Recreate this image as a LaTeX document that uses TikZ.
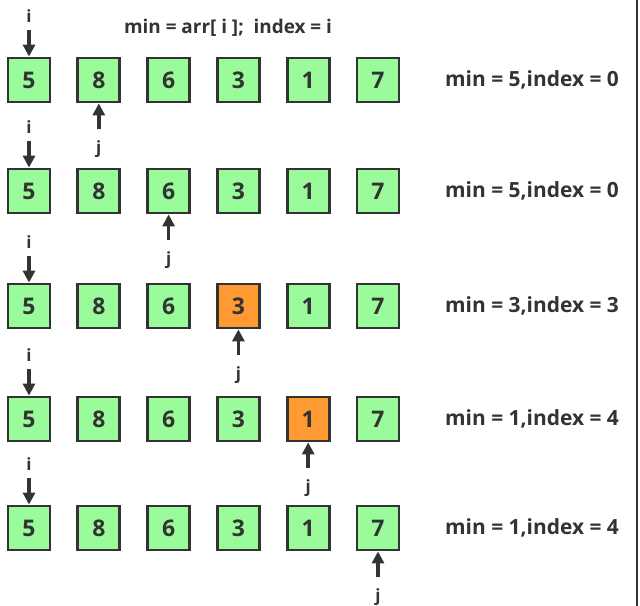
\documentclass[tikz,border=0pt]{standalone}
\usepackage{fontspec}
\setmainfont{Open Sans}
\usetikzlibrary{arrows.meta}
\definecolor{dark}{HTML}{333333}
\definecolor{cellgreen}{HTML}{99FB99}
\definecolor{cellorange}{HTML}{FF9A33}
\begin{document}
\begin{tikzpicture}[x=1bp,y=-1bp,
  cell/.style={draw=dark,line width=2.8bp,fill=cellgreen,minimum width=42bp,minimum height=44bp,inner sep=0pt,font=\fontsize{23}{23}\selectfont\bfseries,text=dark},
  hot/.style={cell,fill=cellorange},
  ptr/.style={font=\fontsize{17}{17}\selectfont\bfseries,text=dark,inner sep=1bp},
  arr/.style={draw=dark,line width=3.5bp,-{Triangle[length=12bp,width=12bp]}},
  note/.style={font=\fontsize{21}{21}\selectfont\bfseries,text=dark},
  edge/.style={draw=dark,line width=2bp}]
\useasboundingbox (0,0) rectangle (640,606);
\node[note,font=\fontsize{19}{19}\selectfont\bfseries] (title) at (228,28) {min = arr[ i ];\ \ index = i};
\foreach \r/\y/\h/\jc/\m/\ix in {1/80/0/2/5/0, 2/191/0/3/5/0, 3/306/4/4/3/3, 4/419/5/5/1/4, 5/528/0/6/1/4} {
  \foreach \v [count=\c] in {5,8,6,3,1,7} {
    \ifnum\c=\h\def\st{hot}\else\def\st{cell}\fi
    \node[\st] (b\r\c) at ({29+69.8*(\c-1)},\y) {\v};
  }
  \node[ptr] (i\r) at (29,\y-64) {i};
  \draw[arr,shorten <=6bp] (i\r.south) -- (b\r1.north);
  \node[ptr] (j\r) at ({29+69.8*(\jc-1)},\y+69) {j};
  \draw[arr,shorten <=10bp] (j\r.north) -- (b\r\jc.south);
  \node[note] (n\r) at (532,\y) {min = \m,index = \ix};
}
\draw[edge] (636.5,0) -- (636.5,606);
\end{tikzpicture}
\end{document}
